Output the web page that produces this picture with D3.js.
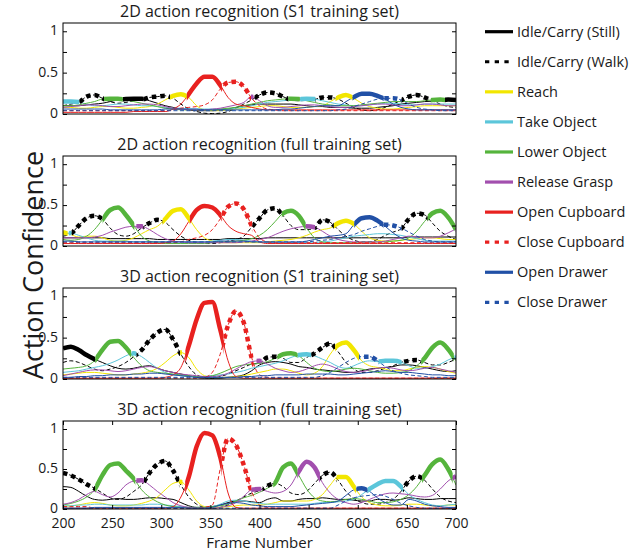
<!DOCTYPE html>
<html>
<head>
<meta charset="utf-8">
<script src="https://cdn.jsdelivr.net/npm/d3@7"></script>
<style>
  body { margin: 0; background: #fff; }
  svg { font-family: "Open Sans", sans-serif; }
</style>
</head>
<body>
<svg id="chart" width="630" height="552"></svg>
<script>
// sample positions along the time axis (every 10 units)
const frames = [200,210,220,230,240,250,260,270,280,290,300,310,320,330,340,350,360,370,380,390,
  400,410,420,430,440,450,460,470,480,490,500,510,520,530,540,550,560,570,580,590,
  600,610,620,630,640,650,660,670,680,690,700];

const actions = ["Idle/Carry (Still)", "Idle/Carry (Walk)", "Reach", "Take Object", "Lower Object",
  "Release Grasp", "Open Cupboard", "Close Cupboard", "Open Drawer", "Close Drawer"];
const colors = ["#000000", "#000000", "#f2e600", "#5cc6da", "#55b43c",
  "#a24fae", "#e8211f", "#e8211f", "#2150a6", "#2150a6"];
const dotted = [false, true, false, false, false, false, false, true, false, true];

const titles = ["2D action recognition (S1 training set)", "2D action recognition (full training set)",
  "3D action recognition (S1 training set)", "3D action recognition (full training set)"];
const yTicks = [0, 0.25, 0.5, 0.75, 1];
const yTickLabels = {0: "0", 0.5: "0.5", 1: "1"};
// bottom axis: tick positions and the labels printed there
const xTickPos = [200, 262.5, 325, 387.5, 450, 512.5, 575, 637.5, 700];
const xTickLabels = ["200", "250", "300", "350", "400", "450", "600", "650", "700"];

// confidence per action, rows in the order of `actions`
const conf2dS1 = [
  [.10,.10,.10,.11,.12,.13,.15,.17,.18,.185,.185,.16,.13,.10,.08,.06,.05,.04,.04,.04,.05,.06,.08,.10,.11,.12,.12,.12,.12,.12,.11,.10,.09,.09,.08,.08,.08,.07,.07,.07,.08,.09,.10,.12,.13,.14,.15,.155,.16,.175,.17],
  [.10,.12,.14,.21,.23,.19,.15,.13,.14,.16,.17,.20,.21,.22,.19,.12,.06,.03,.01,.005,.01,.03,.07,.12,.17,.23,.26,.25,.21,.17,.16,.165,.175,.20,.20,.18,.13,.08,.05,.04,.05,.08,.12,.165,.21,.23,.20,.16,.12,.09,.08],
  [.08,.08,.07,.07,.08,.09,.09,.08,.07,.07,.08,.09,.12,.17,.22,.24,.20,.10,.05,.04,.04,.05,.06,.07,.08,.09,.10,.10,.09,.08,.08,.08,.09,.10,.15,.20,.23,.19,.13,.09,.07,.06,.06,.07,.08,.09,.10,.10,.10,.10,.10],
  [.15,.15,.145,.12,.10,.10,.11,.12,.12,.11,.10,.10,.09,.08,.07,.07,.06,.06,.06,.06,.06,.06,.07,.08,.10,.12,.14,.15,.16,.17,.178,.185,.18,.16,.14,.12,.11,.10,.10,.11,.12,.13,.13,.12,.11,.11,.12,.12,.12,.12,.12],
  [.10,.10,.11,.13,.15,.18,.185,.185,.17,.15,.13,.11,.09,.07,.06,.05,.05,.05,.05,.05,.06,.07,.08,.10,.12,.14,.16,.17,.18,.185,.182,.16,.14,.12,.11,.10,.10,.10,.11,.12,.13,.14,.15,.15,.15,.15,.16,.17,.175,.165,.15],
  [.08,.09,.10,.11,.11,.10,.09,.09,.10,.11,.12,.12,.11,.09,.07,.06,.05,.05,.05,.06,.07,.09,.11,.14,.21,.16,.10,.08,.08,.09,.10,.11,.11,.10,.09,.08,.08,.09,.10,.11,.12,.12,.11,.10,.10,.11,.12,.12,.11,.10,.10],
  [.02,.02,.02,.02,.02,.02,.02,.02,.02,.03,.03,.03,.03,.03,.06,.12,.24,.37,.45,.45,.35,.20,.12,.10,.08,.06,.05,.05,.05,.05,.05,.05,.05,.05,.05,.05,.05,.05,.05,.05,.05,.05,.05,.05,.05,.05,.05,.05,.05,.05,.05],
  [.04,.04,.04,.04,.04,.04,.04,.04,.04,.04,.04,.04,.04,.04,.05,.07,.08,.09,.11,.17,.30,.38,.39,.33,.19,.10,.06,.05,.04,.04,.04,.04,.04,.04,.04,.04,.04,.04,.04,.04,.04,.04,.04,.04,.04,.04,.04,.04,.04,.04,.04],
  [.06,.06,.06,.06,.06,.06,.05,.05,.05,.05,.05,.05,.05,.06,.06,.06,.06,.06,.05,.05,.05,.05,.05,.05,.05,.05,.05,.05,.06,.06,.07,.08,.09,.10,.10,.10,.15,.205,.245,.245,.22,.18,.12,.08,.06,.05,.05,.05,.05,.05,.05],
  [.04,.04,.04,.04,.04,.04,.04,.04,.04,.04,.04,.04,.04,.04,.04,.04,.04,.04,.04,.04,.04,.04,.04,.04,.04,.04,.04,.04,.04,.04,.04,.04,.04,.04,.04,.05,.06,.09,.12,.15,.18,.19,.19,.17,.12,.08,.06,.05,.04,.04,.04]
];

const conf2dFull = [
  [.10,.10,.10,.10,.10,.10,.09,.09,.09,.09,.09,.09,.08,.08,.08,.08,.08,.08,.08,.08,.08,.09,.09,.09,.09,.09,.10,.10,.10,.10,.10,.10,.10,.10,.10,.10,.10,.10,.10,.10,.10,.10,.10,.10,.11,.11,.11,.11,.11,.11,.11],
  [.12,.15,.25,.34,.37,.33,.22,.14,.12,.15,.22,.28,.32,.29,.20,.12,.07,.04,.03,.03,.04,.06,.08,.12,.23,.34,.44,.46,.37,.25,.20,.20,.22,.32,.29,.20,.12,.07,.05,.05,.08,.13,.17,.21,.33,.40,.38,.28,.18,.12,.08],
  [.17,.14,.11,.12,.12,.10,.07,.06,.07,.10,.15,.20,.24,.33,.43,.45,.34,.20,.10,.06,.04,.04,.04,.04,.04,.04,.05,.06,.07,.08,.10,.13,.17,.20,.22,.28,.31,.27,.18,.10,.07,.06,.06,.07,.08,.09,.10,.10,.09,.08,.08],
  [.14,.16,.13,.10,.07,.06,.06,.06,.06,.05,.05,.05,.05,.05,.05,.05,.05,.05,.05,.06,.07,.08,.08,.07,.06,.05,.04,.04,.04,.04,.04,.04,.04,.05,.06,.08,.10,.12,.13,.14,.15,.15,.14,.13,.11,.09,.07,.06,.06,.06,.06],
  [.08,.07,.08,.12,.20,.32,.44,.47,.38,.25,.12,.06,.04,.03,.03,.03,.03,.03,.03,.04,.05,.05,.06,.07,.09,.13,.20,.30,.40,.43,.37,.22,.10,.05,.04,.04,.04,.04,.05,.05,.05,.05,.06,.07,.10,.18,.30,.40,.43,.35,.20],
  [.10,.10,.10,.10,.11,.13,.17,.20,.23,.24,.24,.20,.14,.09,.06,.05,.04,.04,.04,.04,.04,.04,.04,.05,.06,.08,.10,.14,.18,.21,.23,.24,.23,.18,.12,.08,.06,.05,.05,.05,.05,.06,.08,.10,.12,.11,.10,.10,.12,.16,.21],
  [.03,.03,.03,.03,.03,.03,.03,.03,.03,.03,.03,.03,.03,.04,.06,.15,.30,.44,.49,.47,.38,.25,.18,.15,.13,.05,.03,.03,.03,.03,.03,.03,.03,.03,.03,.03,.03,.03,.03,.03,.03,.03,.03,.03,.03,.03,.03,.03,.03,.03,.03],
  [.04,.04,.04,.04,.04,.04,.04,.04,.04,.04,.04,.04,.04,.04,.04,.05,.08,.10,.13,.20,.33,.48,.52,.45,.25,.10,.05,.04,.04,.04,.04,.04,.04,.04,.04,.04,.04,.04,.04,.04,.04,.04,.04,.04,.04,.04,.04,.04,.04,.04,.04],
  [.06,.06,.05,.05,.05,.05,.05,.05,.05,.05,.05,.05,.05,.05,.05,.05,.05,.05,.05,.05,.06,.06,.06,.06,.05,.05,.05,.05,.05,.05,.05,.06,.08,.10,.12,.13,.15,.26,.34,.35,.31,.24,.16,.10,.07,.06,.05,.05,.05,.05,.05],
  [.05,.05,.05,.05,.05,.05,.05,.05,.05,.05,.05,.05,.05,.05,.05,.05,.05,.05,.05,.05,.05,.05,.05,.05,.05,.05,.05,.05,.05,.05,.05,.05,.06,.07,.08,.10,.12,.14,.18,.21,.24,.26,.25,.22,.17,.12,.08,.06,.05,.05,.05]
];

const conf3dS1 = [
  [.37,.39,.35,.29,.24,.20,.16,.13,.12,.13,.15,.16,.13,.10,.08,.06,.04,.02,.01,.01,.01,.02,.03,.05,.10,.17,.20,.21,.20,.18,.15,.14,.12,.11,.10,.09,.08,.08,.10,.12,.13,.14,.15,.17,.17,.16,.14,.12,.10,.09,.10],
  [.20,.22,.20,.16,.12,.10,.12,.15,.20,.27,.35,.47,.56,.60,.48,.30,.15,.05,.02,.01,.03,.06,.10,.14,.18,.19,.26,.27,.25,.20,.20,.26,.31,.38,.43,.33,.20,.12,.08,.08,.10,.13,.16,.20,.22,.23,.20,.17,.17,.20,.24],
  [.05,.06,.07,.08,.08,.07,.06,.05,.05,.06,.07,.09,.13,.20,.28,.32,.26,.12,.04,.02,.02,.02,.03,.04,.06,.08,.10,.12,.12,.10,.07,.05,.07,.15,.30,.41,.44,.35,.22,.16,.14,.12,.10,.10,.12,.14,.15,.14,.12,.09,.07],
  [.08,.09,.10,.12,.14,.16,.19,.23,.28,.31,.27,.20,.13,.08,.05,.04,.03,.03,.03,.04,.05,.06,.08,.10,.13,.15,.17,.19,.22,.26,.29,.30,.28,.24,.20,.15,.13,.16,.20,.22,.21,.22,.22,.205,.16,.13,.13,.15,.18,.23,.27],
  [.12,.13,.14,.16,.22,.35,.45,.46,.38,.26,.16,.10,.08,.07,.06,.05,.04,.03,.03,.04,.07,.11,.15,.17,.18,.19,.21,.25,.30,.31,.28,.20,.13,.10,.09,.10,.12,.13,.12,.10,.08,.07,.07,.08,.10,.16,.25,.38,.44,.36,.22],
  [.04,.06,.08,.10,.11,.11,.10,.09,.10,.12,.14,.15,.13,.10,.08,.06,.05,.04,.03,.03,.04,.07,.12,.17,.21,.22,.18,.13,.10,.08,.09,.12,.16,.18,.16,.12,.09,.08,.09,.11,.13,.14,.13,.11,.10,.11,.13,.14,.12,.10,.08],
  [.01,.01,.01,.01,.01,.01,.01,.01,.01,.01,.01,.01,.01,.02,.05,.14,.40,.72,.92,.93,.60,.22,.03,.01,.01,.01,.01,.01,.01,.01,.01,.01,.01,.01,.01,.01,.01,.01,.01,.01,.01,.01,.01,.01,.01,.01,.01,.01,.01,.01,.01],
  [.01,.01,.01,.01,.01,.01,.01,.01,.01,.01,.01,.01,.01,.01,.01,.01,.01,.01,.02,.08,.30,.65,.82,.68,.26,.05,.02,.01,.01,.01,.01,.01,.01,.01,.01,.01,.01,.01,.01,.01,.01,.01,.01,.01,.01,.01,.01,.01,.01,.01,.01],
  [.02,.02,.03,.03,.04,.04,.05,.05,.05,.06,.06,.07,.07,.06,.05,.04,.03,.02,.02,.02,.02,.02,.02,.03,.03,.04,.04,.05,.05,.05,.05,.06,.06,.06,.06,.05,.05,.06,.07,.08,.09,.10,.09,.08,.08,.07,.06,.05,.05,.04,.04],
  [.02,.02,.02,.02,.02,.02,.02,.02,.02,.02,.02,.02,.02,.02,.02,.02,.02,.02,.02,.02,.02,.02,.02,.02,.02,.02,.02,.02,.02,.02,.02,.02,.02,.04,.08,.14,.20,.25,.27,.27,.22,.15,.10,.07,.05,.04,.03,.02,.02,.02,.02]
];

const conf3dFull = [
  [.28,.27,.22,.16,.12,.11,.12,.13,.12,.12,.13,.14,.14,.13,.12,.08,.04,.02,.02,.03,.05,.08,.10,.10,.09,.08,.12,.14,.10,.10,.12,.13,.13,.14,.13,.12,.12,.11,.10,.10,.12,.12,.11,.12,.14,.13,.12,.12,.13,.13,.13],
  [.45,.42,.37,.31,.26,.20,.14,.12,.15,.22,.30,.45,.56,.60,.48,.30,.15,.06,.02,.01,.02,.05,.10,.15,.20,.23,.29,.32,.28,.20,.18,.22,.32,.42,.46,.36,.22,.13,.08,.06,.06,.08,.12,.22,.35,.41,.36,.25,.15,.10,.08],
  [.03,.04,.05,.07,.08,.07,.05,.04,.04,.05,.07,.10,.15,.24,.32,.34,.24,.10,.03,.02,.02,.03,.04,.05,.05,.05,.06,.08,.10,.10,.10,.10,.12,.18,.30,.40,.40,.28,.15,.08,.05,.04,.04,.05,.06,.06,.05,.04,.04,.05,.05],
  [.04,.04,.05,.05,.06,.06,.05,.05,.05,.05,.05,.06,.06,.05,.04,.03,.02,.02,.02,.03,.06,.10,.11,.10,.08,.07,.06,.06,.06,.06,.06,.06,.07,.08,.08,.09,.10,.12,.18,.25,.31,.35,.35,.28,.18,.12,.08,.05,.04,.05,.06],
  [.05,.07,.10,.15,.24,.42,.55,.57,.48,.38,.24,.15,.09,.05,.03,.02,.02,.02,.02,.03,.04,.06,.10,.14,.17,.21,.26,.33,.52,.57,.42,.25,.14,.10,.09,.10,.12,.13,.12,.10,.08,.08,.09,.12,.18,.28,.42,.56,.62,.50,.30],
  [.06,.08,.12,.18,.22,.18,.15,.20,.30,.35,.36,.30,.22,.15,.08,.04,.02,.01,.01,.01,.02,.04,.08,.16,.24,.25,.22,.20,.22,.30,.47,.59,.52,.33,.20,.12,.08,.06,.08,.12,.16,.19,.20,.19,.18,.16,.15,.17,.25,.35,.41],
  [.01,.01,.01,.01,.01,.01,.01,.01,.01,.01,.01,.01,.01,.01,.03,.15,.40,.78,.95,.92,.65,.20,.02,.01,.01,.01,.01,.01,.01,.01,.01,.01,.01,.01,.01,.01,.01,.01,.01,.01,.01,.01,.01,.01,.01,.01,.01,.01,.01,.01,.01],
  [.03,.03,.03,.03,.01,.01,.01,.01,.01,.01,.01,.01,.01,.01,.01,.01,.01,.01,.02,.05,.50,.88,.80,.55,.22,.05,.02,.01,.01,.01,.01,.01,.01,.01,.01,.01,.01,.01,.01,.01,.01,.01,.01,.01,.01,.01,.01,.01,.01,.01,.01],
  [.01,.01,.01,.01,.02,.02,.02,.02,.02,.02,.02,.02,.02,.02,.02,.02,.01,.01,.01,.02,.05,.07,.08,.07,.05,.04,.03,.03,.03,.03,.04,.05,.06,.07,.08,.10,.17,.24,.26,.22,.14,.08,.05,.05,.12,.10,.06,.04,.03,.02,.02],
  [.01,.01,.01,.01,.01,.01,.01,.01,.01,.01,.01,.01,.01,.01,.01,.01,.01,.01,.01,.01,.01,.01,.01,.01,.01,.01,.01,.01,.01,.01,.01,.01,.01,.01,.01,.05,.10,.14,.16,.17,.18,.16,.12,.07,.04,.02,.01,.01,.01,.01,.01]
];

const panels = [conf2dS1, conf2dFull, conf3dS1, conf3dFull];
const panelTops = [23, 156, 288, 421];
const panelHeights = [91, 90, 91, 88];

const X0 = 63, W = 393;
const svg = d3.select('#chart');
const defs = svg.append('defs');
const x = d3.scaleLinear().domain([200, 700]).range([0, W]);

// ranges along x where series s is the top-scoring action
function winningRanges(data, s) {
  const diff = j => data[s][j] - d3.max(data.filter((_, k) => k !== s), r => r[j]);
  const cross = (a, b) => {
    const da = diff(a), db = diff(b);
    return frames[a] + (frames[b] - frames[a]) * da / (da - db);
  };
  const out = [];
  let start = null;
  for (let j = 0; j < frames.length; j++) {
    const win = diff(j) > 0;
    if (win && start === null) start = j === 0 ? frames[0] : cross(j - 1, j);
    if (!win && start !== null) { out.push([start, cross(j - 1, j)]); start = null; }
  }
  if (start !== null) out.push([start, frames[frames.length - 1]]);
  return out;
}

panels.forEach((data, p) => {
  data.forEach((s, i) => {
    if (s.length !== frames.length) throw new Error(`panel ${p} series ${i} has ${s.length} values`);
  });
  const h = panelHeights[p];
  const y = d3.scaleLinear().domain([0, 1.1]).range([h, 0]);
  const g = svg.append('g').attr('transform', `translate(${X0},${panelTops[p]})`);

  defs.append('clipPath').attr('id', `plot${p}`)
    .append('rect').attr('width', W).attr('height', h);

  const line = d3.line()
    .x((d, j) => x(frames[j]))
    .y(d => y(d))
    .curve(d3.curveMonotoneX);

  const plot = g.append('g').attr('clip-path', `url(#plot${p})`);

  // thin lines for every action
  data.forEach((s, i) => {
    plot.append('path')
      .attr('d', line(s))
      .attr('fill', 'none')
      .attr('stroke', colors[i])
      .attr('stroke-width', 1)
      .attr('stroke-dasharray', dotted[i] ? '4,2.5' : null);
  });

  // thick overlay where the action wins
  data.forEach((s, i) => {
    const ranges = winningRanges(data, i);
    if (!ranges.length) return;
    const cp = defs.append('clipPath').attr('id', `win${p}_${i}`);
    ranges.forEach(r => {
      cp.append('rect')
        .attr('x', x(r[0])).attr('width', x(r[1]) - x(r[0]))
        .attr('y', -10).attr('height', h + 20);
    });
    plot.append('path')
      .attr('d', line(s))
      .attr('fill', 'none')
      .attr('stroke', colors[i])
      .attr('stroke-width', 4.5)
      .attr('stroke-dasharray', dotted[i] ? '4.5,4' : null)
      .attr('clip-path', `url(#win${p}_${i})`);
  });

  // box
  g.append('rect')
    .attr('width', W).attr('height', h)
    .attr('fill', 'none').attr('stroke', '#000').attr('stroke-width', 1);

  const yl = g.append('g')
    .call(d3.axisLeft(y).tickValues(yTicks).tickSize(-4).tickPadding(5)
      .tickFormat(v => yTickLabels[v] || ''));
  const yr = g.append('g').attr('transform', `translate(${W},0)`)
    .call(d3.axisRight(y).tickValues(yTicks).tickSize(-4).tickFormat(''));
  [yl, yr].forEach(a => {
    a.select('.domain').remove();
    a.selectAll('text').attr('font-size', 14).attr('fill', '#1a1a1a').attr('dy', '0.25em')
      .style('font-family', '"Open Sans", sans-serif');
  });

  if (p === panels.length - 1) {
    const xb = g.append('g').attr('transform', `translate(0,${h})`)
      .call(d3.axisBottom(x).tickValues(xTickPos).tickSize(-4).tickPadding(9)
        .tickFormat((d, k) => xTickLabels[k]));
    const xt = g.append('g')
      .call(d3.axisTop(x).tickValues(xTickPos).tickSize(-4).tickFormat(''));
    [xb, xt].forEach(a => {
      a.select('.domain').remove();
      a.selectAll('text').attr('font-size', 14).attr('fill', '#1a1a1a')
        .style('font-family', '"Open Sans", sans-serif');
    });
    g.append('text')
      .attr('x', W / 2).attr('y', h + 38.5)
      .attr('text-anchor', 'middle')
      .attr('font-size', 15).attr('fill', '#1a1a1a')
      .text('Frame Number');
  }

  g.append('text')
    .attr('x', W / 2).attr('y', -6)
    .attr('text-anchor', 'middle')
    .attr('font-size', 16).attr('fill', '#1a1a1a')
    .text(titles[p]);
});

// y axis title
svg.append('text')
  .attr('transform', 'translate(43,265) rotate(-90)')
  .attr('text-anchor', 'middle')
  .attr('font-size', 27).attr('fill', '#1a1a1a')
  .text('Action Confidence');

// legend
const legend = svg.append('g');
actions.forEach((a, i) => {
  const ly = 31.7 + 30.07 * i;
  legend.append('line')
    .attr('x1', 485).attr('x2', 513).attr('y1', ly).attr('y2', ly)
    .attr('stroke', colors[i]).attr('stroke-width', 3.2)
    .attr('stroke-dasharray', dotted[i] ? '4.3,5.4' : null);
  legend.append('text')
    .attr('x', 517).attr('y', ly).attr('dy', '0.35em')
    .attr('font-size', 14.5).attr('fill', '#1a1a1a')
    .text(a);
});
</script>
</body>
</html>
